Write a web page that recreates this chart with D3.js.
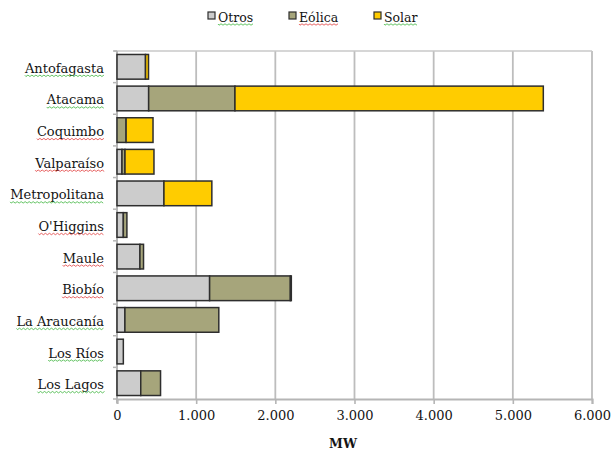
<!DOCTYPE html>
<html>
<head>
<meta charset="utf-8">
<script src="https://cdn.jsdelivr.net/npm/d3@7"></script>
<style>
  html, body { margin: 0; padding: 0; background: #fff; }
  svg text { font-family: "DejaVu Serif", "Liberation Serif", serif; fill: #141414; }
</style>
</head>
<body>
<svg id="chart" width="611" height="450"></svg>
<script>
// Installed capacity by region (MW), split by technology
const regions = ["Antofagasta", "Atacama", "Coquimbo", "Valparaíso", "Metropolitana",
  "O'Higgins", "Maule", "Biobío", "La Araucanía", "Los Ríos", "Los Lagos"];
const otros  = [360, 400,   0,  63, 593, 80, 290, 1170,  100, 80, 300];
const eolica = [  0, 1090, 115, 38,   0, 45,  45, 1020, 1186,  0, 250];
const solar  = [ 38, 3895, 340, 366, 605,  0,   0,   12,    0,  0,   0];
const seriesNames = ["Otros", "Eólica", "Solar"];
const seriesColors = ["#cccccc", "#a6a57b", "#ffcc00"];
const xTicks = [0, 1000, 2000, 3000, 4000, 5000, 6000];
// spell-check style underline colours on the labels
const squiggleRegion = ["#2a2", "#2a2", "#d22", "#d22", "#2a2", "#d22", "#d22", "#d22", "#2a2", "#2a2", "#2a2"];
const squiggleLegend = ["#2a2", "#d22", "#2a2"];

const rows = regions.map((r, i) => ({ region: r, Otros: otros[i], "Eólica": eolica[i], Solar: solar[i] }));
const stacked = d3.stack().keys(seriesNames)(rows);

const svg = d3.select("#chart");
const plotLeft = 117, plotRight = 592, plotTop = 51, plotBottom = 399;

const x = d3.scaleLinear().domain([0, 6000]).range([plotLeft, plotRight]);
const y = d3.scaleBand().domain(regions).range([plotTop, plotBottom]).paddingInner(0.22).paddingOuter(0.11);

const fmt = v => d3.format(",")(v).replace(/,/g, ".");

// vertical gridlines
svg.append("g").selectAll("line").data(xTicks.slice(1)).join("line")
  .attr("x1", d => x(d)).attr("x2", d => x(d))
  .attr("y1", plotTop).attr("y2", plotBottom)
  .attr("stroke", "#bdbdbd").attr("stroke-width", 1.8);

// top border line of plot area
svg.append("line").attr("x1", plotLeft - 3).attr("x2", plotRight).attr("y1", plotTop).attr("y2", plotTop)
  .attr("stroke", "#c8c8c8").attr("stroke-width", 1.6);

// bottom axis
const xAxis = svg.append("g").attr("transform", `translate(0,${plotBottom})`)
  .call(d3.axisBottom(x).tickValues(xTicks).tickFormat(fmt).tickSize(5).tickPadding(7));
xAxis.select(".domain").attr("stroke", "#b5b5b5").attr("stroke-width", 2);
xAxis.selectAll(".tick line").attr("stroke", "#b5b5b5").attr("stroke-width", 1.6);
xAxis.selectAll(".tick text").attr("font-size", 13).attr("fill", "#141414")
  .style("font-family", '"DejaVu Serif", serif');

// left axis: line plus ticks at category boundaries
const yAxisG = svg.append("g");
yAxisG.append("line").attr("x1", plotLeft).attr("x2", plotLeft).attr("y1", plotTop).attr("y2", plotBottom + 4)
  .attr("stroke", "#b5b5b5").attr("stroke-width", 2);
const bounds = d3.range(regions.length + 1).map(i => plotTop + i * (plotBottom - plotTop) / regions.length);
yAxisG.selectAll("line.b").data(bounds).join("line").attr("class", "b")
  .attr("x1", plotLeft - 4).attr("x2", plotLeft).attr("y1", d => d).attr("y2", d => d)
  .attr("stroke", "#b5b5b5").attr("stroke-width", 1.5);

// category labels
const labels = svg.append("g").selectAll("text").data(regions).join("text")
  .attr("x", 104).attr("y", d => y(d) + y.bandwidth() / 2 + 6)
  .attr("text-anchor", "end").attr("font-size", 13).text(d => d);

function squiggle(g, x0, x1, yy, color) {
  let d = `M${x0},${yy}`;
  for (let xx = x0; xx < x1; xx += 2) d += `L${xx + 1},${yy + ((xx - x0) / 2 % 2 === 0 ? 1.2 : -0.2)}`;
  g.append("path").attr("d", d).attr("fill", "none").attr("stroke", color)
    .attr("stroke-width", 1).attr("opacity", 0.7);
}
const sq = svg.append("g");
labels.each(function (d, i) {
  const w = this.getComputedTextLength();
  squiggle(sq, 104 - w, 104, +d3.select(this).attr("y") + 2.5, squiggleRegion[i]);
});

// stacked bars
svg.append("g").selectAll("g").data(stacked).join("g")
  .attr("fill", (d, i) => seriesColors[i])
  .selectAll("rect").data(d => d.filter(s => s[1] - s[0] > 0)).join("rect")
  .attr("x", d => x(d[0])).attr("width", d => x(d[1]) - x(d[0]))
  .attr("y", d => y(d.data.region)).attr("height", y.bandwidth())
  .attr("stroke", "#2e2e2e").attr("stroke-width", 1.5);

// axis title
svg.append("text").attr("x", 343).attr("y", 448).attr("text-anchor", "middle")
  .attr("font-size", 12.5).attr("font-weight", "bold").text("MW");

// legend
const legendX = [208, 289, 374];
const lg = svg.append("g").selectAll("g").data(seriesNames).join("g")
  .attr("transform", (d, i) => `translate(${legendX[i]},12)`);
lg.append("rect").attr("width", 7).attr("height", 7)
  .attr("fill", (d, i) => seriesColors[i]).attr("stroke", "#2e2e2e").attr("stroke-width", 1.2);
lg.append("text").attr("x", 10).attr("y", 9.5).attr("font-size", 12.5).text(d => d)
  .each(function (d, i) {
    const w = this.getComputedTextLength();
    squiggle(d3.select(this.parentNode), 10, 10 + w, 12, squiggleLegend[i]);
  });
</script>
</body>
</html>
